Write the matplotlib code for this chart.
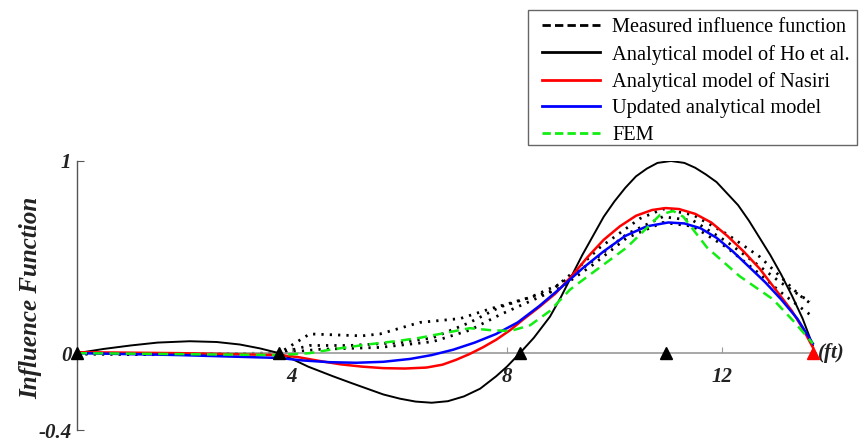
import matplotlib
matplotlib.use("Agg")
import matplotlib.pyplot as plt
from matplotlib.lines import Line2D
from matplotlib.patches import Rectangle

# Position along the beam (ft) and influence-function ordinates
ho_x = [0.0, 0.5, 1.0, 1.5, 2.1, 2.6, 3.03, 3.4, 3.76, 4.0, 4.3, 4.76, 5.1, 5.4, 5.7,
        6.01, 6.3, 6.6, 6.9, 7.2, 7.5, 7.8, 8.0, 8.24, 8.5, 8.8, 9.0, 9.2, 9.4, 9.6,
        9.8, 10.0, 10.2, 10.4, 10.6, 10.8, 11.05, 11.3, 11.5, 11.7, 11.9, 12.1, 12.3,
        12.5, 12.7, 12.9, 13.1, 13.3, 13.5, 13.69]
ho_y = [0.0, 0.022, 0.04, 0.055, 0.062, 0.058, 0.045, 0.025, 0.0, -0.03, -0.07, -0.12,
        -0.155, -0.185, -0.215, -0.237, -0.252, -0.258, -0.25, -0.225, -0.185, -0.12,
        -0.07, 0.0, 0.08, 0.19, 0.29, 0.40, 0.51, 0.61, 0.71, 0.79, 0.86, 0.92, 0.96,
        0.99, 1.0, 0.99, 0.965, 0.93, 0.89, 0.83, 0.77, 0.69, 0.60, 0.51, 0.41, 0.30,
        0.18, 0.04]

nasiri_x = [0.0, 1.9, 3.76, 4.1, 4.5, 4.9, 5.3, 5.7, 6.1, 6.5, 6.8, 7.05, 7.3, 7.55,
            7.8, 8.06, 8.3, 8.6, 8.9, 9.2, 9.5, 9.8, 10.1, 10.4, 10.7, 10.95, 11.2,
            11.5, 11.8, 12.1, 12.4, 12.7, 13.0, 13.3, 13.5, 13.69]
nasiri_y = [0.005, 0.0, -0.01, -0.02, -0.04, -0.058, -0.07, -0.078, -0.08, -0.075,
            -0.06, -0.035, -0.005, 0.03, 0.07, 0.12, 0.175, 0.24, 0.31, 0.40, 0.50,
            0.59, 0.66, 0.715, 0.745, 0.755, 0.75, 0.725, 0.68, 0.61, 0.53, 0.44,
            0.33, 0.22, 0.13, 0.03]

updated_x = [0.0, 1.9, 3.76, 4.2, 4.7, 5.2, 5.7, 6.2, 6.6, 7.0, 7.4, 7.8, 8.2, 8.6,
             9.0, 9.4, 9.8, 10.2, 10.6, 11.0, 11.3, 11.6, 11.9, 12.2, 12.5, 12.8,
             13.1, 13.4, 13.69]
updated_y = [0.0, -0.01, -0.025, -0.038, -0.047, -0.05, -0.045, -0.03, -0.01, 0.018,
             0.055, 0.10, 0.16, 0.245, 0.34, 0.44, 0.53, 0.61, 0.66, 0.68, 0.675,
             0.65, 0.60, 0.53, 0.45, 0.37, 0.28, 0.18, 0.05]

fem_x = [0.0, 1.9, 3.76, 4.33, 4.76, 5.4, 6.01, 6.38, 6.94, 7.31, 7.68, 8.06, 8.43,
         8.8, 9.17, 9.36, 9.6, 10.23, 10.85, 11.09, 11.28, 11.72, 12.33, 12.95, 13.32, 13.69]
fem_y = [0.0, -0.005, -0.01, 0.0, 0.02, 0.045, 0.065, 0.08, 0.11, 0.13, 0.12, 0.115, 0.145,
         0.22, 0.33, 0.37, 0.42, 0.55, 0.72, 0.74, 0.71, 0.55, 0.40, 0.28, 0.17, 0.05]

meas1_x = [0.0, 1.5, 3.76, 4.33, 5.3, 5.64, 6.38, 7.13, 7.68, 8.24, 8.8, 9.27, 9.73,
           10.47, 10.9, 11.46, 12.09, 12.71, 13.08, 13.45, 13.64]
meas1_y = [0.0, -0.005, 0.0, 0.10, 0.09, 0.10, 0.16, 0.18, 0.23, 0.275, 0.32, 0.43, 0.55,
           0.70, 0.75, 0.72, 0.62, 0.50, 0.40, 0.30, 0.26]
meas2_x = [0.0, 1.5, 3.76, 4.33, 5.08, 6.01, 6.62, 7.31, 7.87, 8.43, 8.99, 9.6, 10.23,
           10.9, 11.46, 12.09, 12.71, 13.08, 13.45, 13.64]
meas2_y = [0.0, -0.005, 0.0, 0.04, 0.04, 0.055, 0.08, 0.16, 0.24, 0.29, 0.36, 0.48, 0.62,
           0.71, 0.69, 0.58, 0.45, 0.37, 0.30, 0.27]
meas3_x = [0.0, 1.5, 3.76, 4.52, 5.64, 6.62, 7.31, 7.87, 8.43, 8.99, 9.6, 10.23, 10.9,
           11.46, 12.09, 12.71, 13.08, 13.45, 13.64]
meas3_y = [-0.005, -0.008, 0.0, 0.02, 0.03, 0.06, 0.12, 0.20, 0.27, 0.34, 0.46, 0.60, 0.68,
           0.66, 0.55, 0.41, 0.32, 0.24, 0.20]

support_x = [0.0, 3.76, 8.24, 10.96]
end_support_x = [13.69]

x_ticks = [4, 8, 12]
y_ticks = [-0.4, 0, 1]
y_tick_labels = ["-0.4", "0", "1"]

legend_labels = ["Measured influence function", "Analytical model of Ho et al.",
                 "Analytical model of Nasiri", "Updated analytical model", "FEM"]

serif = ["Liberation Serif", "DejaVu Serif"]
text_color = "#222222"

fig = plt.figure(figsize=(8.59, 4.43), dpi=100)
ax = fig.add_axes([0.0896, 0.0293, 0.8604, 0.6073])

for mx, my in [(meas1_x, meas1_y), (meas2_x, meas2_y), (meas3_x, meas3_y)]:
    ax.plot(mx, my, color="black", lw=2.0, linestyle=(0, (0.8, 2.2)), zorder=2)
ax.plot(ho_x, ho_y, color="black", lw=1.4, zorder=3)
ax.plot(nasiri_x, nasiri_y, color="#ff0000", lw=1.8, zorder=3)
ax.plot(updated_x, updated_y, color="#0000ff", lw=1.8, zorder=4)
ax.plot(fem_x, fem_y, color="#11ee11", lw=1.8, linestyle=(0, (4, 2.5)), zorder=4)

ax.plot(support_x, [0] * len(support_x), linestyle="none", marker="^",
        color="black", markersize=8, zorder=6, clip_on=False)
ax.plot(end_support_x, [0] * len(end_support_x), linestyle="none", marker="^",
        color="#ff0000", markersize=9, zorder=6, clip_on=False)

ax.set_xlim(0, 13.75)
ax.set_ylim(-0.4, 1.0)

for side in ["top", "right"]:
    ax.spines[side].set_visible(False)
ax.spines["bottom"].set_position(("data", 0))
ax.spines["bottom"].set_color("#9a9a9a")
ax.spines["bottom"].set_linewidth(1.2)
ax.spines["left"].set_color("#555555")
ax.spines["left"].set_linewidth(1.0)

ax.set_xticks(x_ticks)
ax.set_xticklabels([str(t) for t in x_ticks])
ax.set_yticks(y_ticks)
ax.set_yticklabels(y_tick_labels)
ax.tick_params(axis="x", direction="in", length=4, color="#9a9a9a", pad=10)
ax.tick_params(axis="y", direction="in", length=5, color="#555555", pad=4)
for lab in ax.get_xticklabels() + ax.get_yticklabels():
    lab.set_family(serif)
    lab.set_style("italic")
    lab.set_weight("bold")
    lab.set_fontsize(15)
    lab.set_color(text_color)

ax.set_ylabel("Influence Function", family=serif, style="italic", weight="bold",
              fontsize=18, color=text_color)
ax.yaxis.set_label_coords(-0.047, 0.49)
ax.text(1.003, 0.0, "(ft)", transform=ax.get_yaxis_transform(), family=serif,
        style="italic", weight="bold", fontsize=15, color=text_color,
        ha="left", va="center")

handles = [
    Line2D([], [], color="black", lw=2.0, linestyle=(0, (3, 1.5))),
    Line2D([], [], color="black", lw=2.0),
    Line2D([], [], color="#ff0000", lw=2.0),
    Line2D([], [], color="#0000ff", lw=2.0),
    Line2D([], [], color="#11ee11", lw=2.0, linestyle=(0, (3, 1.5))),
]
# Legend entries without their own frame; a separate box is drawn around them
fig.legend(handles, legend_labels, loc="upper left",
           bbox_to_anchor=(542 / 859, 1 - 18 / 443), prop={"family": serif, "size": 14.7},
           frameon=False, handlelength=2.85, handletextpad=0.6, labelspacing=0.36,
           borderpad=0.0, borderaxespad=0.0)
fig.patches.append(Rectangle((528 / 859, 1 - 145 / 443), 329 / 859, 135 / 443,
                             transform=fig.transFigure, fill=False,
                             edgecolor="#666666", linewidth=1.0, zorder=10))

fig.savefig("out.png", dpi=100)
